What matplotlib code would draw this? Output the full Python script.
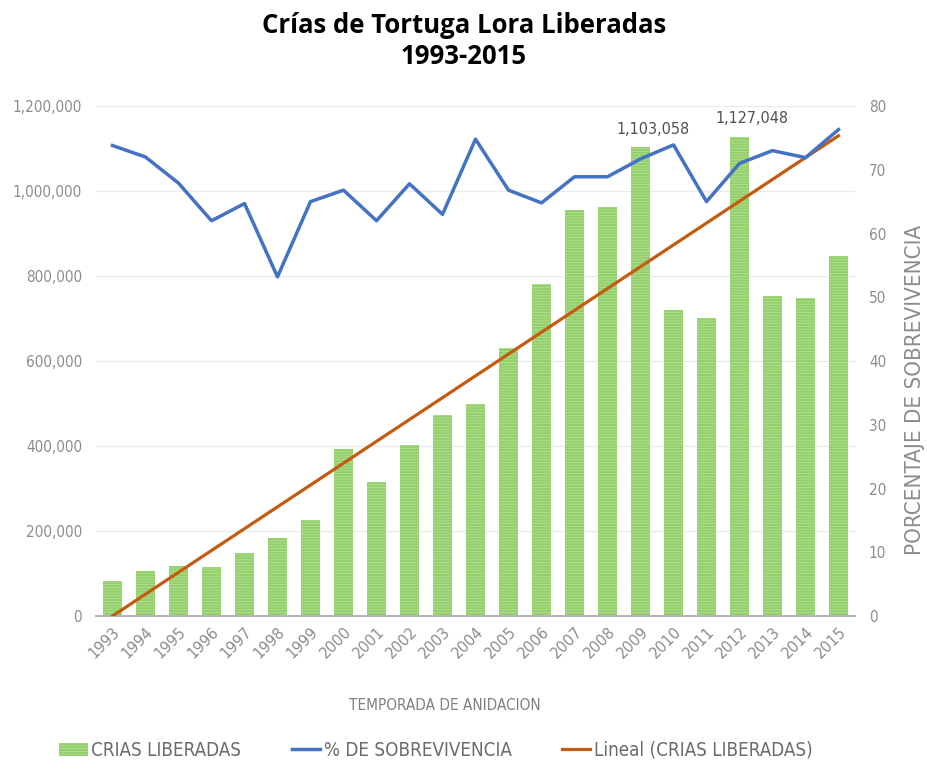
import numpy as np
import matplotlib
matplotlib.use('Agg')
import matplotlib.pyplot as plt
from matplotlib.ticker import FuncFormatter, MultipleLocator

years = [str(y) for y in range(1993, 2016)]
crias = [82000, 107000, 118000, 116000, 149000, 183000, 227000, 394000, 316000,
         402000, 474000, 499000, 630000, 781000, 956000, 962000, 1103058, 720000,
         702000, 1127048, 752000, 748000, 846000]
sobrevivencia = [73.8, 72.0, 67.9, 62.0, 64.7, 53.2, 65.0, 66.8, 62.0, 67.8, 63.0,
                 74.8, 66.8, 64.8, 68.9, 68.9, 71.7, 73.9, 65.0, 71.0, 73.0, 71.9, 76.3]
# trend line endpoints (1993, 2015)
trend_years = ['1993', '2015']
trend_vals = [0, 1130000]
labelled = ['2009', '2012']

GRAY = '#8c8c8c'
narrow = ['DejaVu Sans']

fig = plt.figure(figsize=(9.28, 7.69), dpi=100)
ax = fig.add_axes([96 / 928, 1 - 616 / 769, (855 - 96) / 928, (616 - 106) / 769])
ax2 = ax.twinx()

x = np.arange(len(years))
plt.rcParams['hatch.linewidth'] = 0.6
ax.bar(x, crias, width=0.6, color='#93cf6a', edgecolor='#b3df94', linewidth=0,
       hatch='------', zorder=2, label='CRIAS LIBERADAS')
tx = [years.index(t) for t in trend_years]
ax.plot(tx, trend_vals, color='#c55a11', lw=2.3, zorder=4, label='Lineal (CRIAS LIBERADAS)')
for yr in labelled:
    i = years.index(yr)
    ax.text(i + 0.37, crias[i] + 25000, f'{crias[i]:,}', ha='center', va='bottom',
            fontsize=11.5, color='#505050', fontstretch='condensed', family=narrow)

ax2.plot(x, sobrevivencia, color='#4472c4', lw=2.5, zorder=3, label='% DE SOBREVIVENCIA')

ax.set_xlim(-0.5, len(years) - 0.5)
ax.set_ylim(0, 1200000)
ax2.set_ylim(0, 80)
ax.yaxis.set_major_locator(MultipleLocator(200000))
ax.yaxis.set_major_formatter(FuncFormatter(lambda v, p: f'{int(v):,}'))
ax2.yaxis.set_major_locator(MultipleLocator(10))
ax.grid(axis='y', color='#ebebeb', lw=1, zorder=0)
ax.set_axisbelow(True)

for a in (ax, ax2):
    for s in a.spines.values():
        s.set_visible(False)
    a.tick_params(length=0, colors=GRAY, labelsize=11)
ax.spines['bottom'].set_visible(True)
ax.spines['bottom'].set_color('#b4b4c0')
ax.spines['bottom'].set_linewidth(1.5)
ax.tick_params(axis='y', pad=10)
for lab in ax.get_yticklabels() + ax2.get_yticklabels():
    lab.set_family(narrow)
    lab.set_fontstretch('condensed')
ax2.tick_params(axis='y', pad=10)

ax.set_xticks(x)
ax.set_xticklabels(years, rotation=45, ha='right', rotation_mode='anchor',
                   fontsize=10.5, color=GRAY, family=narrow)
ax.tick_params(axis='x', pad=6)

ax.set_xlabel('TEMPORADA DE ANIDACION', fontsize=11, color='#7f7f7f',
              family=narrow, fontstretch='condensed')
ax.xaxis.set_label_coords((445 - 96) / (855 - 96), -(698 - 616) / (616 - 106))
ax2.set_ylabel('PORCENTAJE DE SOBREVIVENCIA', fontsize=16, color=GRAY,
               family=narrow, fontstretch='condensed')
ax2.yaxis.set_label_coords((905 - 96) / (855 - 96), (616 - 390) / (616 - 106))

fig.suptitle('Crías de Tortuga Lora Liberadas\n1993-2015', fontsize=18.5,
             fontweight='bold', y=0.985, x=0.5, family=['Open Sans', 'DejaVu Sans'])

h1, l1 = ax.get_legend_handles_labels()
h2, l2 = ax2.get_legend_handles_labels()
handles = [h1[1], h2[0], h1[0]]
labels = [l1[1], l2[0], l1[0]]
fig.legend(handles, labels, loc='lower center', bbox_to_anchor=(0.47, -0.01), ncol=3,
           frameon=False, prop={'family': narrow, 'size': 13.5, 'stretch': 'condensed'},
           labelcolor='#6b6b6b', handlelength=1.5, handletextpad=0.2, columnspacing=2.7)

fig.savefig('out.png', dpi=100)
